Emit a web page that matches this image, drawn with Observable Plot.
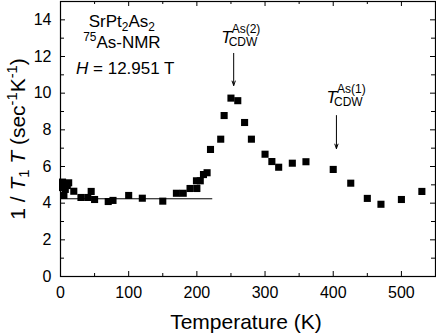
<!DOCTYPE html>
<html><head><meta charset="utf-8">
<script src="https://cdn.jsdelivr.net/npm/d3@7"></script>
<script src="https://cdn.jsdelivr.net/npm/@observablehq/plot@0.6"></script>
<style>
body{margin:0;background:#fff;}
#chart svg{display:block;}
</style>
</head><body><div id="chart"></div>
<script>
// ---- data ----
const temperature = [3, 3, 5, 7, 10, 12, 19.5, 30, 40, 45, 50, 70, 77, 100, 120, 150, 170, 180, 190, 200, 199.4, 205, 209.7, 215, 220, 235, 240, 250, 260, 270, 280, 300, 310, 320, 340, 360, 400, 425.7, 450, 470, 500, 530];
const rate = [5.15, 4.85, 4.42, 4.75, 4.96, 5.11, 4.65, 4.31, 4.31, 4.64, 4.20, 4.09, 4.15, 4.42, 4.27, 4.11, 4.54, 4.54, 4.80, 4.80, 5.22, 5.22, 5.56, 5.66, 6.93, 7.49, 8.78, 9.73, 9.59, 8.40, 7.49, 6.67, 6.27, 5.96, 6.18, 6.26, 5.84, 5.09, 4.26, 3.94, 4.20, 4.64];
const fitT = [0, 222];
const fitRate = [4.24, 4.24];
const xMajor = [0, 100, 200, 300, 400, 500];
const xMinor = [50, 150, 250, 350, 450];
const yMajor = [0, 2, 4, 6, 8, 10, 12, 14];
const yMinor = [1, 3, 5, 7, 9, 11, 13];
const sampleText = ["SrPt_{2}As_{2}", "^{75}As-NMR", "*H* = 12.951 T"];
const sampleX = [90, 90, 95];
const sampleY = [13.6, 12.49, 11.07];
const cdwSup = ["As(2)", "As(1)"];
const cdwX = [251, 405.5];
const cdwY = [12.71, 9.49];
const arrowX = [254, 404.7];
const arrowFrom = [12.17, 8.78];
const arrowTo = [10.42, 6.98];
const xTitle = "Temperature (K)";
const yTitle = "1 / *T*_{1} *T* (sec^{-1}K^{-1})";

// ---- tables ----
const points = temperature.map((t, i) => ({t, r: rate[i]}));
const fit = fitT.map((t, i) => ({t, r: fitRate[i]}));
const sample = sampleText.map((s, i) => ({s, x: sampleX[i], y: sampleY[i]}));
const cdw = cdwSup.map((s, i) => ({s, x: cdwX[i], y: cdwY[i]}));
const arrows = arrowX.map((x, i) => ({x, y1: arrowFrom[i], y2: arrowTo[i]}));

const W = 436, H = 335, mL = 60, mR = 1, mT = 1, mB = 59;
const plotW = W - mL - mR, plotH = H - mT - mB;
const font = '"Liberation Sans", Arial, Helvetica, sans-serif';
const big = 17, small = 12, yTitleSize = 21;

const plot = Plot.plot({
  width: W, height: H,
  marginLeft: mL, marginRight: mR, marginTop: mT, marginBottom: mB,
  style: {fontFamily: font, fontSize: "16px", color: "#000", background: "#fff"},
  x: {domain: [0, 550]},
  y: {domain: [0, 15]},
  marks: [
    Plot.axisX({ticks: xMajor, tickSize: 0, tickPadding: 10, label: null, anchor: "bottom"}),
    Plot.axisY({ticks: yMajor, tickSize: 0, tickPadding: 9, label: null, anchor: "left"}),
    // inward ticks on all four sides
    Plot.ruleX(xMajor, {x: d => d, insetTop: plotH - 5, stroke: "#000"}),
    Plot.ruleX(xMinor, {x: d => d, insetTop: plotH - 3, stroke: "#000"}),
    Plot.ruleX(xMajor, {x: d => d, insetBottom: plotH - 5, stroke: "#000"}),
    Plot.ruleX(xMinor, {x: d => d, insetBottom: plotH - 3, stroke: "#000"}),
    Plot.ruleY(yMajor, {y: d => d, insetRight: plotW - 5, stroke: "#000"}),
    Plot.ruleY(yMinor, {y: d => d, insetRight: plotW - 4, stroke: "#000"}),
    Plot.ruleY(yMajor, {y: d => d, insetLeft: plotW - 5, stroke: "#000"}),
    Plot.ruleY(yMinor, {y: d => d, insetLeft: plotW - 4, stroke: "#000"}),
    Plot.frame({stroke: "#000", strokeWidth: 1.2}),
    Plot.line(fit, {x: "t", y: "r", stroke: "#000", strokeWidth: 1}),
    Plot.dot(points, {x: "t", y: "r", symbol: "square", r: 4, fill: "#000", stroke: null}),
    Plot.arrow(arrows, {x1: "x", x2: "x", y1: "y1", y2: "y2", stroke: "#000", strokeWidth: 1, headLength: 7, headAngle: 40}),
    Plot.text(sample, {x: "x", y: "y", text: "s", fontSize: big, textAnchor: "middle", lineAnchor: "bottom"}),
    Plot.text(cdw, {x: "x", y: "y", text: () => "T", fontSize: big, fontStyle: "italic", textAnchor: "end", lineAnchor: "bottom"}),
    Plot.text(cdw, {x: "x", y: "y", text: "s", fontSize: small, textAnchor: "start", lineAnchor: "bottom", dy: -10, dx: 0}),
    Plot.text(cdw, {x: "x", y: "y", text: () => "CDW", fontSize: small, textAnchor: "start", lineAnchor: "bottom", dy: 3, dx: -3}),
    Plot.text([xTitle], {frameAnchor: "bottom", text: d => d, fontSize: 21, textAnchor: "middle", lineAnchor: "bottom", dy: 52, dx: -2}),
    Plot.text([yTitle], {frameAnchor: "left", text: d => d, fontSize: yTitleSize, textAnchor: "middle", lineAnchor: "bottom", rotate: -90, dx: -36})
  ]
});

function richify(textEl, markup, baseSize) {
  const sel = d3.select(textEl);
  sel.text(null);
  const re = /(\^\{[^}]*\}|_\{[^}]*\}|\*[^*]*\*)/g;
  let shift = 0;
  markup.split(re).filter(s => s).forEach(tok => {
    let txt = tok, target = 0, size = null, italic = false;
    if (tok.startsWith("^{")) { txt = tok.slice(2, -1); target = -0.38 * baseSize; size = 0.7 * baseSize; }
    else if (tok.startsWith("_{")) { txt = tok.slice(2, -1); target = 0.22 * baseSize; size = 0.7 * baseSize; }
    else if (tok.startsWith("*")) { txt = tok.slice(1, -1); italic = true; }
    const ts = sel.append("tspan").text(txt);
    if (target !== shift) ts.attr("dy", target - shift);
    shift = target;
    if (size) ts.attr("font-size", size);
    if (italic) ts.attr("font-style", "italic");
  });
}
d3.select(plot).selectAll("text").each(function() {
  const t = this.textContent;
  if (sampleText.includes(t)) richify(this, t, big);
  else if (t === yTitle) richify(this, t, yTitleSize);
});

document.getElementById("chart").appendChild(plot);
</script>
</body></html>
